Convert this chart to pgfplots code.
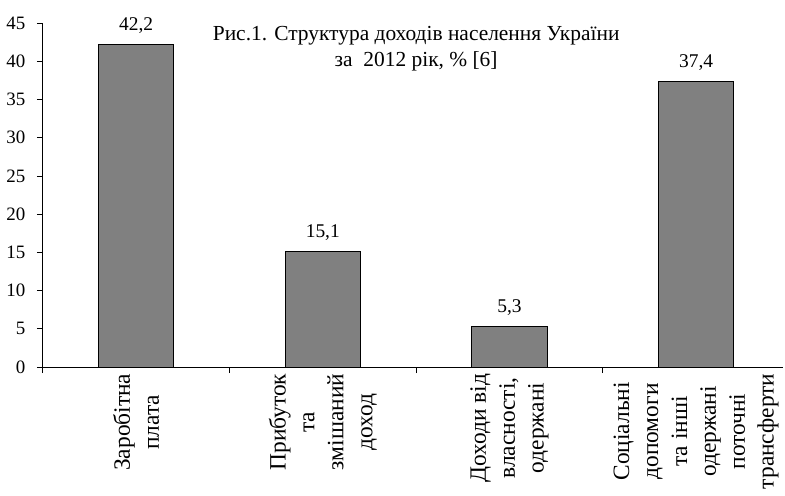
\documentclass[border=0pt]{standalone}
\usepackage{pgfplots}
\pgfplotsset{compat=1.18}
\usepackage{fontspec}
\setmainfont{Liberation Serif}
\definecolor{bargray}{RGB}{128,128,128}
\begin{document}
\fontsize{19}{28}\selectfont
\begin{tikzpicture}
\begin{axis}[
  scale only axis, width=740bp, height=344bp,
  xmin=0, xmax=3.965, ymin=0, ymax=45,
  axis x line=bottom, axis y line=left,
  axis line style={-, line width=0.8pt, black},
  every outer x axis line/.append style={-},
  every outer y axis line/.append style={-},
  ytick={0,5,...,45},
  xtick={0,1,2,3,4}, xticklabels={},
  extra x ticks={0.5,1.5,2.5,3.5},
  extra x tick labels={{Заробітна\\плата}, {Прибуток\\та\\змішаний\\доход}, {Доходи від\\власності,\\одержані}, {Соціальні\\допомоги\\та інші\\одержані\\поточні\\трансферти}},
  extra x tick style={major tick length=0pt, grid=none},
  xticklabel style={rotate=90, anchor=east, align=center, font=\fontsize{23.5}{29}\selectfont},
  yticklabel style={font=\fontsize{19}{24}\selectfont, xshift=-5bp},
  tick align=outside, major tick length=6bp,
  tick style={black, line width=0.8pt},
  /pgf/number format/assume math mode=true,
  clip=false,
]
\addplot[ybar, bar width=75bp, fill=bargray, draw=black, line width=1pt,
  nodes near coords,
  every node near coord/.append style={font=\fontsize{19.5}{24}\selectfont, black, yshift=4bp},
  /pgf/number format/.cd, use comma, fixed, fixed zerofill, precision=1]
  coordinates {(0.5,42.2) (1.5,15.1) (2.5,5.3) (3.5,37.4)};
\node[align=center, font=\fontsize{21.5}{26}\selectfont] at (axis cs:2,41.6)
  {Рис.1. Структура доходів населення України\\за~~2012 рік, \% [6]};
\path (axis cs:0,45) ++(0,23bp);
\end{axis}
\end{tikzpicture}
\end{document}
